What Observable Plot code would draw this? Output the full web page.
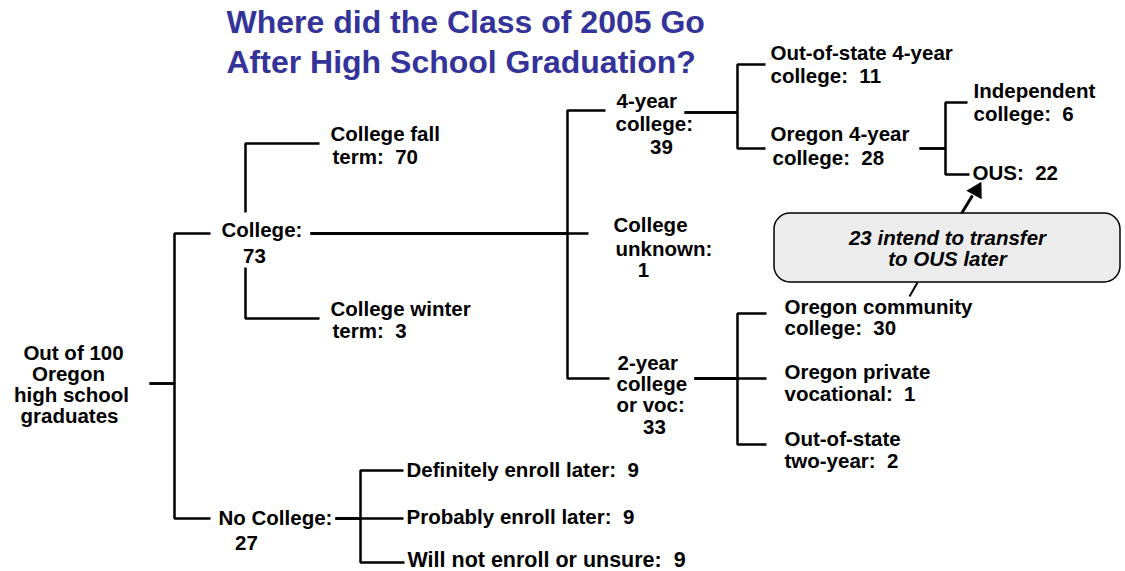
<!DOCTYPE html>
<html><head><meta charset="utf-8">
<script src="https://cdn.jsdelivr.net/npm/d3@7"></script>
<script src="https://cdn.jsdelivr.net/npm/@observablehq/plot@0.6"></script>
<style>body{margin:0;background:#fff} svg{display:block}</style>
</head><body><div id="chart"></div>
<script>
// ---------- data ----------
const titleLines = ["Where did the Class of 2005 Go", "After High School Graduation?"];
const nodeNames = [
  "Oregon high school graduates", "College", "No College", "College fall term", "College winter term",
  "4-year college", "College unknown", "2-year college or voc",
  "Out-of-state 4-year college", "Oregon 4-year college", "Independent college", "OUS",
  "Oregon community college", "Oregon private vocational", "Out-of-state two-year",
  "Definitely enroll later", "Probably enroll later", "Will not enroll or unsure"
];
const nodeValues = [100, 73, 27, 70, 3, 39, 1, 33, 11, 28, 6, 22, 30, 1, 2, 9, 9, 9];
const nodeParents = [null, 0, 0, 1, 1, 1, 1, 1, 5, 5, 9, 9, 7, 7, 7, 2, 2, 2];
const calloutValue = 23;
const calloutLines = ["{v} intend to transfer", "to OUS later"];

// ---------- layout (pixel positions, separate from data) ----------
// label lines: [node, template, x, y, anchor, size]
const labelLayout = [
  [0, "Out of {v}", 73, 353, "middle"], [0, "Oregon", 68, 374, "middle"],
  [0, "high school", 71, 395, "middle"], [0, "graduates", 69, 416, "middle"],
  [1, "College:", 221, 230, "start"], [1, "{v}", 254, 256, "middle"],
  [2, "No College:", 218, 518, "start"], [2, "{v}", 246, 543, "middle"],
  [3, "College fall", 330, 134, "start"], [3, "term:  {v}", 332, 157, "start"],
  [4, "College winter", 330, 309, "start"], [4, "term:  {v}", 332, 331, "start"],
  [5, "4-year", 616, 101, "start"], [5, "college:", 615, 124, "start"], [5, "{v}", 661, 147, "middle"],
  [6, "College", 613, 225, "start"], [6, "unknown:", 615, 249, "start"], [6, "{v}", 643, 270, "middle"],
  [7, "2-year", 617, 363, "start"], [7, "college", 616, 384, "start"], [7, "or voc:", 616, 405, "start"], [7, "{v}", 654, 427, "middle"],
  [8, "Out-of-state 4-year", 770, 53, "start"], [8, "college:  {v}", 770, 76, "start"],
  [9, "Oregon 4-year", 770, 134, "start"], [9, "college:  {v}", 772, 158, "start"],
  [10, "Independent", 973, 91, "start"], [10, "college:  {v}", 973, 114, "start"],
  [11, "OUS:  {v}", 972, 173, "start"],
  [12, "Oregon community", 784, 307, "start"], [12, "college:  {v}", 784, 328, "start"],
  [13, "Oregon private", 784, 372, "start"], [13, "vocational:  {v}", 784, 394, "start"],
  [14, "Out-of-state", 784, 439, "start"], [14, "two-year:  {v}", 784, 461, "start"],
  [15, "Definitely enroll later:  {v}", 406, 470, "start"],
  [16, "Probably enroll later:  {v}", 406, 517, "start"],
  [17, "Will not enroll or unsure:  {v}", 407, 560, "start", 21.5]
];
// elbow connector for each child node: [child, outX, outY, junctionX, inX, inY]
const edgeLayout = [
  [1, 149, 383, 174, 210, 233], [2, 149, 383, 174, 210, 518],
  [3, 245, 212, 245, 319, 143], [4, 245, 267, 245, 319, 318],
  [5, 310, 233, 567, 605, 110], [6, 310, 233, 567, 588, 233], [7, 310, 233, 567, 609, 378],
  [8, 684, 112, 737, 765, 64], [9, 684, 112, 737, 765, 148],
  [10, 919, 148, 945, 967, 102], [11, 919, 148, 945, 969, 174],
  [12, 694, 378, 737, 766, 313], [13, 694, 378, 737, 766, 378], [14, 694, 378, 737, 766, 444],
  [15, 335, 518, 360, 403, 470], [16, 335, 518, 360, 403, 518], [17, 335, 518, 360, 404, 562]
];
const titlePos = {x: 226, y: [22, 62]};
const calloutBox = {x1: 774, x2: 1120, y1: 213, y2: 282, tx: 947, ty: [238, 259]};
const arrowPos = {x1: 961, y1: 213, x2: 972, y2: 195, tipX: 976, tipY: 190};
const tailPos = {x1: 917, y1: 282, x2: 909, y2: 296};

// ---------- build ----------
const sp = s => s.replace(/  /g, "\u00a0 ");
const labels = labelLayout.map(([n, t, x, y, anchor, size]) => ({
  text: sp(t.replace("{v}", nodeValues[n])), x, y, anchor, size: size || 20.5, name: nodeNames[n], parent: nodeParents[n]
}));
const edgePts = edgeLayout.flatMap(([c, ox, oy, jx, ix, iy]) => [
  {id: c, x: ox, y: oy}, {id: c, x: jx, y: oy}, {id: c, x: jx, y: iy}, {id: c, x: ix, y: iy}
]);
const titles = titleLines.map((t, i) => ({text: t, x: titlePos.x, y: titlePos.y[i]}));
const callTexts = calloutLines.map((t, i) => ({text: t.replace("{v}", calloutValue), x: calloutBox.tx, y: calloutBox.ty[i]}));

const font = "'Liberation Sans', Arial, Helvetica, sans-serif";
const textOpts = {x: "x", y: "y", text: "text", fontFamily: font, fontWeight: "bold", fill: "black", lineAnchor: "middle"};
const textMarks = [];
for (const anchor of ["start", "middle"]) {
  for (const size of [...new Set(labels.map(d => d.size))]) {
    const sub = labels.filter(d => d.anchor === anchor && d.size === size);
    if (sub.length) textMarks.push(Plot.text(sub, {...textOpts, fontSize: size, textAnchor: anchor}));
  }
}

const chart = Plot.plot({
  width: 1125, height: 571, margin: 0,
  x: {domain: [0, 1125], range: [0, 1125], axis: null},
  y: {domain: [0, 571], range: [0, 571], axis: null},
  marks: [
    Plot.line(edgePts, {x: "x", y: "y", z: "id", stroke: "black", strokeWidth: 2.5, strokeLinejoin: "miter", strokeLinecap: "butt"}),
    Plot.rect([calloutBox], {x1: "x1", x2: "x2", y1: "y1", y2: "y2", rx: 16, fill: "#ececec", stroke: "black", strokeWidth: 1.5}),
    Plot.link([arrowPos], {x1: "x1", y1: "y1", x2: "x2", y2: "y2", stroke: "black", strokeWidth: 3}),
    Plot.dot([arrowPos], {x: "tipX", y: "tipY", symbol: "triangle", r: 6.5, rotate: 29, fill: "black", stroke: "none"}),
    Plot.link([tailPos], {x1: "x1", y1: "y1", x2: "x2", y2: "y2", stroke: "black", strokeWidth: 2}),
    ...textMarks,
    Plot.text(callTexts, {...textOpts, fontStyle: "italic", fontSize: 20.5, textAnchor: "middle"}),
    Plot.text(titles, {x: "x", y: "y", text: "text", fontFamily: font, fontWeight: "bold", fontSize: 32, fill: "#333399", textAnchor: "start", lineAnchor: "middle"})
  ]
});
document.getElementById("chart").append(chart);
</script>
</body></html>
